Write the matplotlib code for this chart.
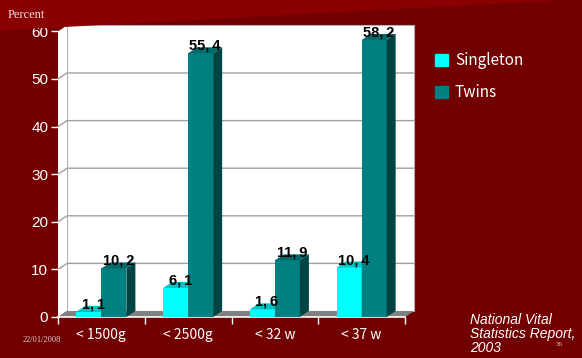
import matplotlib
matplotlib.use("Agg")
import matplotlib.pyplot as plt
import matplotlib.patches as mpatches
from matplotlib.patches import Polygon

# Datos: nacimientos prematuros / bajo peso, simples vs gemelos
categorias = ["< 1500g", "< 2500g", "< 32 w", "< 37 w"]
simples = [1.1, 6.1, 1.6, 10.4]
gemelos = [10.2, 55.4, 11.9, 58.2]
series = ["Singleton", "Twins"]

FONDO = "#720000"
CIAN, CIAN_TOP = "#00ffff", "#00c4c4"
TEAL, TEAL_TOP, TEAL_LADO = "#008080", "#006a6a", "#004444"

fig = plt.figure(figsize=(5.82, 3.58), dpi=100, facecolor=FONDO)

# franja superior más clara
banda = Polygon([(0, 1), (0.97, 1), (0, 0.915)], closed=True,
                transform=fig.transFigure, facecolor="#8a0000", edgecolor="none")
fig.patches.append(banda)

ax = fig.add_axes([58 / 582, 41 / 358, 347 / 582, 285.6 / 358])
ax.set_facecolor("none")
ax.set_xlim(0, 4)
ax.set_ylim(0, 60)
for s in ax.spines.values():
    s.set_visible(False)

dx, dy = 0.104, 1.26   # profundidad del efecto 3D
ancho = 0.288

# pared de fondo, pared izquierda y piso
ax.add_patch(Polygon([(dx, dy), (4 + dx, dy), (4 + dx, 60 + dy), (dx, 60 + dy)],
                     facecolor="white", edgecolor="#b0b0b0", lw=0.8, clip_on=False, zorder=0))
ax.add_patch(Polygon([(0, 0), (dx, dy), (dx, 60 + dy), (0, 60)],
                     facecolor="white", edgecolor="none", clip_on=False, zorder=0))
ax.add_patch(Polygon([(0, 0), (4, 0), (4 + dx, dy), (dx, dy)],
                     facecolor="#808080", edgecolor="none", clip_on=False, zorder=1))

for y in range(10, 60, 10):
    ax.plot([0, dx, 4 + dx], [y, y + dy, y + dy], color="#a0a0a0", lw=1,
            clip_on=False, zorder=0.5)

# eje x blanco
ax.plot([0, 4], [0, 0], color="white", lw=1.2, clip_on=False, zorder=1)


def barra_3d(x, v, cara, techo, lado):
    ax.bar(x, v, width=ancho, color=cara, zorder=2)
    x0, x1 = x - ancho / 2, x + ancho / 2
    ax.add_patch(Polygon([(x0, v), (x0 + dx, v + dy), (x1 + dx, v + dy), (x1, v)],
                         facecolor=techo, edgecolor="none", clip_on=False, zorder=2))
    ax.add_patch(Polygon([(x1, 0), (x1 + dx, dy), (x1 + dx, v + dy), (x1, v)],
                         facecolor=lado, edgecolor="none", clip_on=False, zorder=2))


def etiqueta(x, v):
    ax.text(x + dx / 2, v + 0.1, f"{v:.1f}".replace(".", ",\u2009"), ha="center", va="bottom",
            fontsize=10.5, fontweight="bold", color="black",
            family="Liberation Sans", zorder=5, clip_on=False)


centros = [i + 0.5 for i in range(len(categorias))]
for c, s, g in zip(centros, simples, gemelos):
    barra_3d(c - ancho / 2, s, CIAN, CIAN_TOP, "#009999")
    barra_3d(c + ancho / 2, g, TEAL, TEAL_TOP, TEAL_LADO)
    etiqueta(c - ancho / 2, s)
    etiqueta(c + ancho / 2, g)

# ejes y ticks
ax.set_yticks(range(0, 61, 10))
ax.tick_params(axis="y", colors="white", length=5, width=1, labelsize=11, pad=2)
for t in ax.get_yticklabels():
    t.set_family("Liberation Sans")
ax.set_xticks(centros)
ax.set_xticklabels(categorias, family=["Noto Sans CJK JP", "DejaVu Sans"])
ax.set_xticks(range(5), minor=True)
ax.tick_params(axis="x", which="major", length=0, colors="white", labelsize=10, pad=8)
ax.tick_params(axis="x", which="minor", length=5, color="white", width=1)

fig.text(8 / 582, 1 - 15 / 358, "Percent", family="Liberation Serif", fontsize=9,
         color="#f0e0e0", va="center")

# leyenda
manijas = [mpatches.Patch(color=CIAN, label=series[0]),
           mpatches.Patch(color=TEAL, label=series[1])]
fig.legend(handles=manijas, loc="upper left", bbox_to_anchor=(435 / 582, 1 - 52 / 358),
           frameon=False, handlelength=0.85, handleheight=0.85,
           handletextpad=0.45, labelspacing=1.0, borderpad=0, borderaxespad=0,
           labelcolor="white", prop={"family": ["Noto Sans CJK JP", "DejaVu Sans"], "size": 11})

fig.text(470 / 582, 1 - 334 / 358, "National Vital\nStatistics Report,\n2003",
         fontsize=10, style="italic", color="white", va="center", ha="left",
         linespacing=1.0, family="Liberation Sans")
fig.text(23 / 582, 1 - 340 / 358, "22/01/2008", family="Liberation Serif", fontsize=6,
         color="#d8c8c8", va="center")
fig.text(556 / 582, 1 - 344 / 358, "36", family="Liberation Serif", fontsize=5,
         color="#d8c8c8", va="center")

fig.savefig("out.png", dpi=100, facecolor=FONDO)
